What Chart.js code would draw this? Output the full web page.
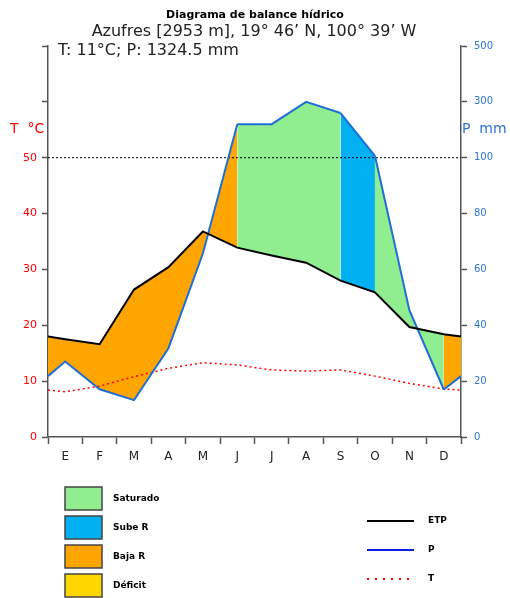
<!DOCTYPE html>
<html>
<head>
<meta charset="utf-8">
<title>Diagrama de balance hídrico</title>
<script src="https://cdn.jsdelivr.net/npm/chart.js@4"></script>
<style>
    html, body { margin: 0; padding: 0; background: #fff; }
    #wrap { width: 510px; height: 598px; }
</style>
</head>
<body>
<div id="wrap"><canvas id="chart" width="510" height="598"></canvas></div>
<script>
// ---------- Data ----------

const MONTHS = ['E', 'F', 'M', 'A', 'M', 'J', 'J', 'A', 'S', 'O', 'N', 'D'];
const ETP_MM = [35.0, 33.2, 52.8, 60.8, 73.6, 67.8, 65.0, 62.4, 56.0, 51.8, 39.4, 36.8];
const P_MM = [27.0, 17.1, 13.2, 31.8, 65.7, 220, 220, 300, 260, 107, 45.4, 17.0];
const T_C = [8.1, 9.1, 10.8, 12.3, 13.3, 12.9, 12.0, 11.8, 12.0, 10.9, 9.6, 8.6];

// where each curve meets the left / right edge of the plot
const ETP_EDGE_MM = 36.0;
const P_EDGE_MM = 21.8;
const T_EDGE_C = 8.4;

// soil water state of each stretch: edge-E, E-F, ..., N-D, D-edge
const ZONES = ['baja', 'baja', 'baja', 'baja', 'baja', 'baja',
    'sat', 'sat', 'sat', 'sube', 'sat', 'sat', 'baja'];

const TEMP_TICKS = [0, 10, 20, 30, 40, 50];
const RAIN_TICKS = [0, 20, 40, 60, 80, 100, 300, 500];
const REF_LEVEL = 50;

const ZONE_COLORS = {
    sat: '#90ee90',
    sube: '#00b0f0',
    baja: '#ffa500',
    deficit: '#ffd700'
};

const LEGEND_BOXES = [
    ['Saturado', ZONE_COLORS.sat],
    ['Sube R', ZONE_COLORS.sube],
    ['Baja R', ZONE_COLORS.baja],
    ['Déficit', ZONE_COLORS.deficit]
];

const FONT = '"DejaVu Sans", "Liberation Sans", sans-serif';
const AXIS_COLOR = '#555';
const RAIN_COLOR = '#2f74d0';

// ---------- Helpers ----------

// precipitation axis: 2 mm per degree up to 100 mm, then 20 mm per degree
function mmToScale(mm) {
    return mm <= 100 ? mm / 2 : REF_LEVEL + (mm - 100) / 20;
}

function buildSeries(edge, values, map) {
    const pts = [{ x: 0, y: map(edge) }];
    values.forEach((v, i) => pts.push({ x: i + 0.5, y: map(v) }));
    pts.push({ x: MONTHS.length, y: map(edge) });
    return pts;
}

const same = v => v;

// ---------- Decorations (titles, axis names, legend) ----------

const decorPlugin = {
    id: 'decor',
    afterDraw(chart) {
        const ctx = chart.ctx;
        ctx.save();
        ctx.textBaseline = 'middle';

        ctx.fillStyle = '#000';
        ctx.textAlign = 'center';
        ctx.font = 'bold 11px ' + FONT;
        ctx.fillText('Diagrama de balance hídrico', 255, 15);
        ctx.font = '16px ' + FONT;
        ctx.fillStyle = '#222';
        ctx.fillText('Azufres [2953 m], 19° 46\u2019 N, 100° 39\u2019 W', 254, 32);
        ctx.textAlign = 'left';
        ctx.fillText('T: 11°C; P: 1324.5 mm', 58, 51);

        ctx.font = '14px ' + FONT;
        ctx.fillStyle = 'red';
        ctx.fillText('T  °C', 10, 129);
        ctx.fillStyle = RAIN_COLOR;
        ctx.fillText('P  mm', 462, 129);

        // area legend
        ctx.font = 'bold 9px ' + FONT;
        LEGEND_BOXES.forEach(([label, color], i) => {
            const y = 487 + i * 29;
            ctx.fillStyle = color;
            ctx.fillRect(65, y, 37, 23);
            ctx.strokeStyle = '#444';
            ctx.lineWidth = 1.5;
            ctx.strokeRect(65, y, 37, 23);
            ctx.fillStyle = '#000';
            ctx.fillText(label, 113, y + 12);
        });

        // line legend
        const lines = [
            ['ETP', '#000', []],
            ['P', '#0a1ee6', []],
            ['T', 'red', [2, 6]]
        ];
        lines.forEach(([label, color, dash], i) => {
            const y = 521 + i * 29;
            ctx.strokeStyle = color;
            ctx.lineWidth = 2;
            ctx.setLineDash(dash);
            ctx.beginPath();
            ctx.moveTo(367, y);
            ctx.lineTo(414, y);
            ctx.stroke();
            ctx.setLineDash([]);
            ctx.fillStyle = '#000';
            ctx.fillText(label, 428, y);
        });

        ctx.restore();
    }
};

// ---------- Chart ----------

const ctx = document.getElementById('chart').getContext('2d');

new Chart(ctx, {
    type: 'line',
    data: {
        datasets: [
            {
                label: 'ETP',
                data: buildSeries(ETP_EDGE_MM, ETP_MM, mmToScale),
                borderColor: '#000',
                borderWidth: 2,
                pointRadius: 0,
                fill: false,
                yAxisID: 'yP'
            },
            {
                label: 'P',
                data: buildSeries(P_EDGE_MM, P_MM, mmToScale),
                borderColor: '#1f6fd6',
                borderWidth: 2,
                pointRadius: 0,
                backgroundColor: ZONE_COLORS.baja,
                fill: { target: 0 },
                segment: {
                    backgroundColor: c => ZONE_COLORS[ZONES[c.p0DataIndex]]
                },
                yAxisID: 'yP'
            },
            {
                label: 'T',
                data: buildSeries(T_EDGE_C, T_C, same),
                borderColor: 'red',
                borderWidth: 1.5,
                borderDash: [2, 3],
                pointRadius: 0,
                fill: false,
                yAxisID: 'yT'
            },
            {
                label: 'ref',
                data: [{ x: 0, y: REF_LEVEL }, { x: MONTHS.length, y: REF_LEVEL }],
                borderColor: '#000',
                borderWidth: 1,
                borderDash: [2, 2],
                pointRadius: 0,
                fill: false,
                yAxisID: 'yT'
            }
        ]
    },
    options: {
        responsive: false,
        animation: false,
        events: [],
        layout: { padding: { top: 46, bottom: 131, left: 0, right: 0 } },
        plugins: {
            legend: { display: false },
            tooltip: { enabled: false },
            filler: { drawTime: 'beforeDatasetsDraw' }
        },
        scales: {
            x: {
                type: 'linear',
                min: 0,
                max: MONTHS.length,
                ticks: {
                    stepSize: 0.5,
                    autoSkip: false,
                    maxRotation: 0,
                    padding: 6,
                    color: '#222',
                    font: { family: FONT, size: 12 },
                    callback: v => Number.isInteger(v) ? '' : MONTHS[Math.floor(v)]
                },
                grid: {
                    drawOnChartArea: false,
                    tickLength: 7,
                    tickWidth: 1.5,
                    tickColor: c => Number.isInteger(c.tick.value) ? AXIS_COLOR : 'transparent'
                },
                border: { color: AXIS_COLOR, width: 1.5 },
                afterFit: s => { s.height = 30; }
            },
            yT: {
                type: 'linear',
                position: 'left',
                min: 0,
                max: 70,
                ticks: {
                    stepSize: 10,
                    padding: 5,
                    color: 'red',
                    font: { family: FONT, size: 11 },
                    callback: v => TEMP_TICKS.includes(v) ? v : ''
                },
                grid: { drawOnChartArea: false, tickLength: 6, tickWidth: 1.5, tickColor: AXIS_COLOR },
                border: { color: AXIS_COLOR, width: 1.5 },
                afterFit: s => { s.width = 48; }
            },
            yP: {
                type: 'linear',
                position: 'right',
                min: 0,
                max: 70,
                ticks: {
                    stepSize: 10,
                    padding: 7,
                    color: RAIN_COLOR,
                    font: { family: FONT, size: 10 },
                    callback: v => RAIN_TICKS[Math.round(v / 10)]
                },
                grid: { drawOnChartArea: false, tickLength: 6, tickWidth: 1.5, tickColor: AXIS_COLOR },
                border: { color: AXIS_COLOR, width: 1.5 },
                afterFit: s => { s.width = 49; }
            }
        }
    },
    plugins: [decorPlugin]
});
</script>
</body>
</html>
